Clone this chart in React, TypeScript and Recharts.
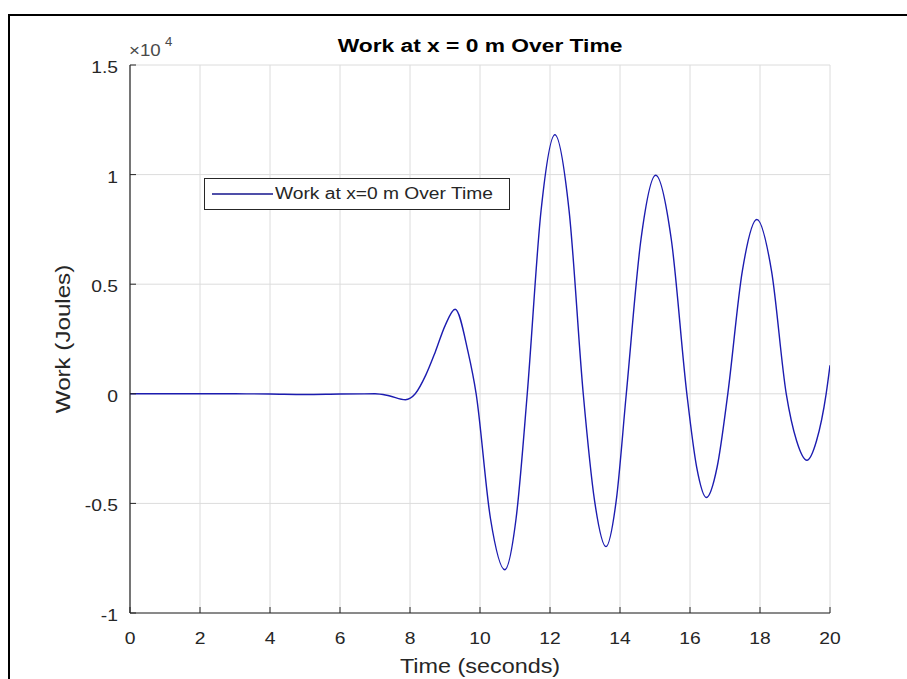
import React from 'react';
import { LineChart, Line, XAxis, YAxis, CartesianGrid, Legend } from 'recharts';

const FONT = '"Liberation Sans", Arial, Helvetica, sans-serif';
const INK = '#262626';

// time (s)
const timeSeconds = [
  0, 1, 2, 3, 4, 5, 6, 7, 7.4, 7.87, 8.15, 8.45, 8.72, 9.0, 9.29, 9.66, 9.89,
  10.3, 10.71, 11.03, 11.35, 11.745, 12.14, 12.545, 12.95, 13.275, 13.6, 13.89,
  14.18, 14.6, 15.02, 15.465, 15.91, 16.19, 16.47, 16.775, 17.08, 17.495, 17.91,
  18.33, 18.75, 19.045, 19.34, 19.615, 19.89, 20,
];
// work (J)
const workJoules = [
  0, 0, 0, 0, -10, -30, -10, 0, -90, -270, 0, 850, 1900, 3100, 3860, 1900, 0,
  -5700, -8030, -5700, 0, 8360, 11820, 8360, 0, -4900, -6970, -4900,
  0, 7050, 9970, 7050, 0, -3340, -4730, -3340, 0, 5600, 7950,
  5600, 0, -2140, -3030, -2140, 0, 1300,
];

const xTicks = [0, 2, 4, 6, 8, 10, 12, 14, 16, 18, 20];
const yTicks = [-10000, -5000, 0, 5000, 10000, 15000];
const yTickLabels = ['-1', '-0.5', '0', '0.5', '1', '1.5'];
const chartTitle = 'Work at x = 0 m Over Time';
const seriesName = 'Work at x=0 m Over Time';
const xLabel = 'Time (seconds)';
const yLabel = 'Work (Joules)';

const data = timeSeconds.map((t, i) => ({ t, w: workJoules[i] }));

const W = 907;
const H = 679;
const M = { top: 65, right: 77, bottom: 36, left: 70 };
const PL = 130, PR = 830, PT = 65, PB = 613;

type STextProps = {
  x: number; y: number; children: React.ReactNode; size?: number; sx?: number;
  anchor?: 'start' | 'middle' | 'end'; bold?: boolean; rotate?: number; fill?: string;
};
const SText = ({ x, y, children, size = 16, sx = 1.15, anchor = 'middle', bold = false, rotate = 0, fill = INK }: STextProps) => (
  <g transform={`translate(${x},${y}) rotate(${rotate}) scale(${sx},1)`}>
    <text x={0} y={0} textAnchor={anchor} fontFamily={FONT} fontSize={size} fontWeight={bold ? 'bold' : 'normal'} fill={fill}>
      {children}
    </text>
  </g>
);

const BottomTick = (props: any) => {
  const { x, y, payload } = props;
  return (
    <g>
      <line x1={x} y1={y} x2={x} y2={y - 6} stroke={INK} strokeWidth={1} />
      <SText x={x} y={y + 31} size={16.5} sx={1.17}>{String(payload.value)}</SText>
    </g>
  );
};
const TopTick = (props: any) => {
  const { x, y } = props;
  return <line x1={x} y1={y} x2={x} y2={y + 6} stroke={INK} strokeWidth={1} />;
};
const LeftTick = (props: any) => {
  const { x, y, payload } = props;
  const idx = yTicks.indexOf(payload.value);
  return (
    <g>
      <line x1={x} y1={y} x2={x + 6} y2={y} stroke={INK} strokeWidth={1} />
      <SText x={x - 12} y={y + 8} size={16.5} sx={1.17} anchor="end">{yTickLabels[idx]}</SText>
    </g>
  );
};
const RightTick = (props: any) => {
  const { x, y } = props;
  return <line x1={x} y1={y} x2={x - 6} y2={y} stroke={INK} strokeWidth={1} />;
};

const LegendBox = () => (
  <div
    style={{
      boxSizing: 'border-box',
      width: 306,
      height: 32,
      border: '1.5px solid #262626',
      background: '#fff',
      display: 'flex',
      alignItems: 'center',
      fontFamily: FONT,
      fontSize: 16,
      color: INK,
    }}
  >
    <svg width={70} height={30} style={{ flex: '0 0 auto' }}>
      <line x1={7} y1={15} x2={68} y2={15} stroke="#14148c" strokeWidth={1.5} />
    </svg>
    <span style={{ display: 'inline-block', transform: 'scaleX(1.2)', transformOrigin: 'left center', whiteSpace: 'nowrap' }}>
      {seriesName}
    </span>
  </div>
);

export default function App() {
  return (
    <div style={{ position: 'absolute', left: 0, top: 0, width: W, height: H, background: '#fff', overflow: 'hidden' }}>
      <div
        style={{
          position: 'absolute', left: 8, top: 14, width: 1000, height: 1000,
          borderTop: '2px solid #000', borderLeft: '2px solid #000', boxSizing: 'border-box',
        }}
      />
      <div style={{ position: 'absolute', left: 0, top: 0 }}>
        <LineChart width={W} height={H} data={data} margin={M}>
          <CartesianGrid stroke="#dcdcdc" strokeWidth={1} />
          <XAxis
            dataKey="t" type="number" domain={[0, 20]} ticks={xTicks} interval={0}
            allowDataOverflow tickSize={0} tickMargin={0} height={30}
            axisLine={{ stroke: INK, strokeWidth: 1.2 }} tickLine={false} tick={<BottomTick />}
          />
          <XAxis
            xAxisId="top" orientation="top" type="number" domain={[0, 20]} ticks={xTicks} interval={0}
            allowDataOverflow tickSize={0} tickMargin={0} height={0}
            axisLine={{ stroke: INK, strokeWidth: 1.2 }} tickLine={false} tick={<TopTick />}
          />
          <YAxis
            type="number" domain={[-10000, 15000]} ticks={yTicks} interval={0}
            allowDataOverflow tickSize={0} tickMargin={0} width={60}
            axisLine={{ stroke: INK, strokeWidth: 1.2 }} tickLine={false} tick={<LeftTick />}
          />
          <YAxis
            yAxisId="right" orientation="right" type="number" domain={[-10000, 15000]} ticks={yTicks} interval={0}
            allowDataOverflow tickSize={0} tickMargin={0} width={0}
            axisLine={{ stroke: INK, strokeWidth: 1.2 }} tickLine={false} tick={<RightTick />}
          />
          <Legend
            layout="horizontal" verticalAlign="middle" align="center"
            content={<LegendBox />}
            wrapperStyle={{ position: 'absolute', left: 204, top: 178, width: 306, height: 32 }}
          />
          <Line
            type="monotone" dataKey="w" name={seriesName} stroke="#1c1cb0" strokeWidth={1.4}
            dot={false} activeDot={false} isAnimationActive={false}
          />
          <SText x={(PL + PR) / 2} y={52} size={19} sx={1.2} bold fill="#000">{chartTitle}</SText>
          <SText x={(PL + PR) / 2} y={673} size={20} sx={1.17}>{xLabel}</SText>
          <SText x={70} y={(PT + PB) / 2} size={21} sx={1.15} rotate={-90}>{yLabel}</SText>
          <SText x={129} y={56} size={17} sx={1.1} anchor="start" fill="#4a4a4a">×10</SText>
          <SText x={165} y={46} size={12} sx={1.1} anchor="start" fill="#4a4a4a">4</SText>
        </LineChart>
      </div>
    </div>
  );
}
